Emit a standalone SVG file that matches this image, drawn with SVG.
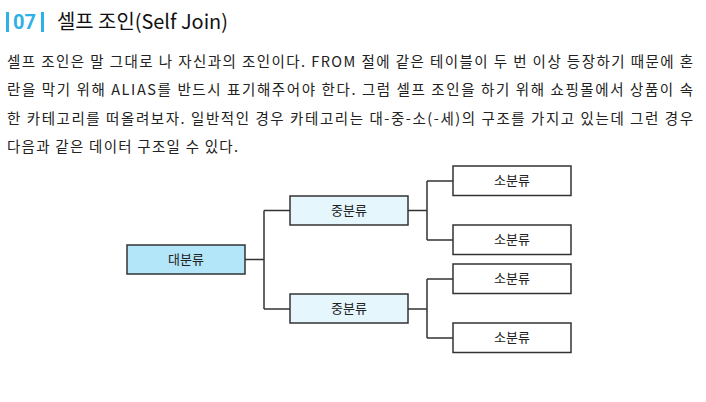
<svg xmlns="http://www.w3.org/2000/svg" width="706" height="402" viewBox="0 0 706 402">
<style>
.body{font-family:"Noto Sans CJK KR","Liberation Serif",serif;font-size:14.5px;fill:#222}
.node rect{stroke:#333;stroke-width:1.5}
.node text{font-family:"Noto Sans CJK KR","Liberation Sans",sans-serif;font-size:13px;fill:#222;text-anchor:middle}
.big{fill:#b3e6f8}
.mid{fill:#e6f6fd}
.small{fill:#ffffff}
.conn path{fill:none;stroke:#333;stroke-width:1.5}
</style>
<rect width="706" height="402" fill="#ffffff"/>
<g id="title">
<rect x="6" y="12" width="3" height="20" fill="#2fb0e6"/>
<text x="13" y="29" font-family="Roboto,'Liberation Sans',sans-serif" font-weight="bold" font-size="20" fill="#2fb0e6">07</text>
<rect x="41" y="12" width="3" height="20" fill="#2fb0e6"/>
<text x="57" y="29" font-family="'Noto Sans CJK KR','Liberation Sans',sans-serif" font-size="20" fill="#111" textLength="171" lengthAdjust="spacingAndGlyphs">셀프 조인(Self Join)</text>
</g>
<g id="paragraph" class="body">
<text x="7" y="67" textLength="686" lengthAdjust="spacing">셀프 조인은 말 그대로 나 자신과의 조인이다. FROM 절에 같은 테이블이 두 번 이상 등장하기 때문에 혼</text>
<text x="7" y="95" textLength="686" lengthAdjust="spacing">란을 막기 위해 ALIAS를 반드시 표기해주어야 한다. 그럼 셀프 조인을 하기 위해 쇼핑몰에서 상품이 속</text>
<text x="7" y="124" textLength="686" lengthAdjust="spacing">한 카테고리를 떠올려보자. 일반적인 경우 카테고리는 대-중-소(-세)의 구조를 가지고 있는데 그런 경우</text>
<text x="7" y="152" textLength="231" lengthAdjust="spacing">다음과 같은 데이터 구조일 수 있다.</text>
</g>
<g class="conn" id="connectors">
<path d="M245 259.5H264M264 210.5V309M264 210.5H290M264 309H290"/>
<path d="M408 210.5H427M427 181V240M427 181H453M427 240H453"/>
<path d="M408 309H427M427 279V338M427 279H453M427 338H453"/>
</g>
<g id="n-big" class="node"><rect class="big" x="127" y="245" width="118" height="29"/><text x="186" y="264">대분류</text></g>
<g id="n-mid1" class="node"><rect class="mid" x="290" y="196" width="118" height="29"/><text x="349" y="215">중분류</text></g>
<g id="n-mid2" class="node"><rect class="mid" x="290" y="294" width="118" height="29"/><text x="349" y="313">중분류</text></g>
<g id="n-small1" class="node"><rect class="small" x="453" y="166" width="118" height="29.5"/><text x="512" y="185">소분류</text></g>
<g id="n-small2" class="node"><rect class="small" x="453" y="225" width="118" height="29.5"/><text x="512" y="244">소분류</text></g>
<g id="n-small3" class="node"><rect class="small" x="453" y="264" width="118" height="29.5"/><text x="512" y="283">소분류</text></g>
<g id="n-small4" class="node"><rect class="small" x="453" y="323" width="118" height="29.5"/><text x="512" y="342">소분류</text></g>
</svg>
